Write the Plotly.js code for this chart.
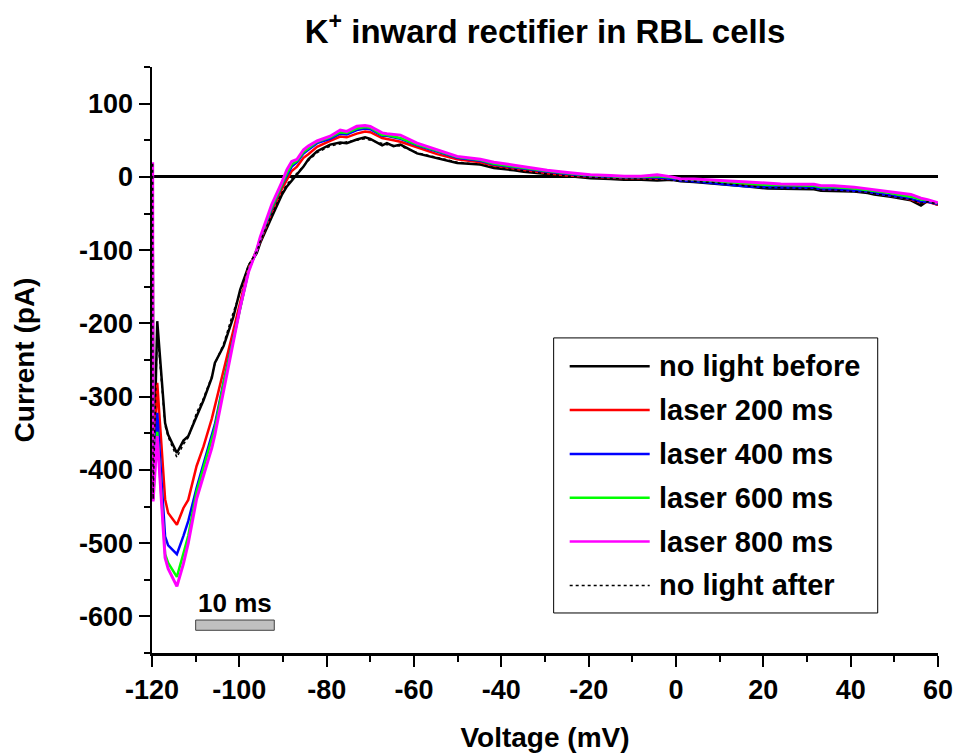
<!DOCTYPE html>
<html>
<head>
<meta charset="utf-8">
<script src="https://cdn.plot.ly/plotly-3.0.1.min.js"></script>
<style>html,body{margin:0;padding:0;background:#fff;}#chart{width:955px;height:754px;}</style>
</head>
<body>
<div id="chart"></div>
<script>
// Voltage (mV) sample points
const voltage = [-119.85, -119.75, -118.8, -117.0, -116.3, -114.3, -112.8, -111.7, -109.8, -108.2,
  -106.3, -105.6, -103.6, -101.4, -99.8, -97.9, -96.0, -95.2, -92.6, -90.3,
  -89.1, -88.0, -86.8, -85.3, -84.2, -82.2, -79.2, -76.9, -75.4, -73.1,
  -71.2, -70.0, -67.3, -66.2, -64.7, -63.1, -59.3, -54.7, -50.1, -44.8,
  -41.7, -37.1, -34.9, -29.5, -24.9, -19.6, -15, -11.9, -8, -4.3,
  -1, 1.1, 4.1, 8.7, 13.3, 16.4, 21, 24, 28.6, 31.6,
  33.2, 36.2, 40.8, 43.9, 45.4, 49.2, 50.8, 53.8, 56.1, 57.6, 60];

// Current (pA) per condition
const noLightBefore = [18, -440, -197, -336, -352, -377, -360, -354, -327, -305,
  -274, -254, -231, -192, -154, -122, -104, -90, -55, -25,
  -13, -5, 3, 14, 24, 35, 44, 47, 46, 51,
  54, 52, 43, 46, 42, 44, 32, 26, 19, 17,
  12, 9, 7, 4, 1, -2, -3, -4, -4, -5,
  -4, -6, -7, -9, -12, -13, -16, -16, -16, -17,
  -19, -19, -20, -22, -24, -27, -29, -32, -39, -33, -38];
const laser200 = [18, -440, -281, -440, -459, -475, -452, -441, -395, -368,
  -330, -313, -262, -212, -170, -125, -100, -88, -48, -17,
  -4, 8, 14, 26, 31, 41, 49, 55, 54, 59,
  62, 61, 53, 52, 50, 48, 40, 31, 24, 20,
  15, 11, 9, 5, 2, 0, -1, -2, -2, -2,
  -3, -4, -5, -7, -10, -11, -13, -13, -14, -14,
  -17, -17, -19, -20, -22, -25, -27, -31, -35, -34, -38];
const laser400 = [18, -440, -322, -491, -503, -515, -490, -470, -425, -392,
  -355, -338, -280, -220, -175, -128, -100, -86, -44, -12,
  2, 14, 20, 32, 37, 46, 52, 59, 58, 64,
  66, 65, 56, 56, 54, 52, 43, 34, 26, 22,
  17, 13, 11, 7, 4, 1, 0, -1, -1, -1,
  -3, -5, -6, -9, -12, -13, -14, -14, -15, -15,
  -17, -17, -19, -20, -22, -25, -27, -30, -34, -34, -37];
const laser600 = [18, -440, -348, -515, -527, -546, -514, -490, -430, -398,
  -360, -343, -282, -222, -176, -128, -99, -84, -42, -10,
  5, 17, 22, 34, 39, 48, 54, 61, 60, 66,
  68, 67, 57, 57, 55, 53, 44, 35, 27, 23,
  18, 14, 12, 8, 5, 2, 1, 0, 0, 1,
  -1, -3, -4, -6, -8, -9, -11, -11, -12, -12,
  -14, -14, -16, -18, -19, -22, -24, -27, -31, -32, -36];
const laser800 = [20, -443, -354, -520, -535, -559, -528, -500, -440, -408,
  -370, -352, -292, -222, -178, -130, -99, -82, -38, -8,
  10, 21, 24, 37, 42, 49, 55.5, 64, 62, 69,
  70, 69, 60, 59, 58, 57, 46, 37, 28, 24,
  20, 16, 14, 9, 6, 3, 2, 1, 1, 3,
  0, -3, -3, -4, -6, -7, -9, -9.6, -10, -10,
  -12, -12, -14, -16.5, -17, -20, -22, -24, -29, -31, -35.5];
const noLightAfter = [18, -440, -210, -340, -355, -383, -365, -356, -322, -302,
  -272, -255, -228, -185, -158, -120, -102, -88, -52, -22,
  -10, -3, 5, 15, 22, 33, 42, 45, 48, 50,
  52, 50, 46, 44, 43, 42, 33, 27, 20, 17,
  13, 10, 8, 4, 1, -1, -2, -3, -3, -4,
  -4, -5, -6, -8, -11, -12, -15, -15, -16, -16,
  -18, -18, -20, -21, -23, -26, -28, -31, -36, -34, -37];

const seriesNames = ['no light before', 'laser 200 ms', 'laser 400 ms', 'laser 600 ms', 'laser 800 ms', 'no light after'];
const seriesValues = [noLightBefore, laser200, laser400, laser600, laser800, noLightAfter];
const seriesColors = ['#000000', '#ff0000', '#0000ff', '#00ff00', '#ff00ff', '#000000'];
const seriesWidths = [2.5, 2.5, 2.5, 2.5, 3, 1.5];
const seriesDash = ['solid', 'solid', 'solid', 'solid', 'solid', 'dot'];

// tick labels (plain hyphen minus as in the reference)
const xTickVals = [-120, -100, -80, -60, -40, -20, 0, 20, 40, 60];
const xTickText = ['-120', '-100', '-80', '-60', '-40', '-20', '0', '20', '40', '60'];
const yTickVals = [-600, -500, -400, -300, -200, -100, 0, 100];
const yTickText = ['-600', '-500', '-400', '-300', '-200', '-100', '0', '100'];

// scale bar: 10 ms
const scaleBarX = [-110, -92];
const scaleBarY = [-619, -605];
const scaleBarLabel = '10 ms';

const FONT = 'Liberation Sans, Arial, sans-serif';

const traces = seriesNames.map((name, i) => ({
  type: 'scatter', mode: 'lines', name: name,
  x: voltage, y: seriesValues[i],
  line: {color: seriesColors[i], width: seriesWidths[i], dash: seriesDash[i]},
  showlegend: false
}));

// custom legend (box, sample lines, labels) in paper coords
const legX0 = 0.511, legX1 = 0.9233, legY0 = 0.0683, legY1 = 0.5377;
const lineX0 = 0.5314, lineX1 = 0.6332, textX = 0.6425;
const rowTop = 0.4893, rowStep = 0.0748;
const shapes = [
  {type: 'rect', xref: 'paper', yref: 'paper', x0: legX0, x1: legX1, y0: legY0, y1: legY1,
   line: {color: '#000', width: 1}, fillcolor: '#fff', layer: 'above'},
  {type: 'rect', xref: 'x', yref: 'y', x0: scaleBarX[0], x1: scaleBarX[1], y0: scaleBarY[0], y1: scaleBarY[1],
   line: {color: '#404040', width: 1}, fillcolor: '#c0c0c0', layer: 'above'}
];
const annotations = [
  {xref: 'x', yref: 'y', x: (scaleBarX[0] + scaleBarX[1]) / 2, y: scaleBarY[1], yanchor: 'bottom',
   text: '<b>' + scaleBarLabel + '</b>', showarrow: false, font: {family: FONT, size: 26, color: '#000'}}
];
seriesNames.forEach((name, i) => {
  const yy = rowTop - i * rowStep;
  shapes.push({type: 'line', xref: 'paper', yref: 'paper', x0: lineX0, x1: lineX1, y0: yy, y1: yy,
    line: {color: seriesColors[i], width: i === 5 ? 1.5 : 2.5, dash: seriesDash[i]}, layer: 'above'});
  annotations.push({xref: 'paper', yref: 'paper', x: textX, y: yy, xanchor: 'left', yanchor: 'middle',
    text: '<b>' + name + '</b>', showarrow: false, font: {family: FONT, size: 29, color: '#000'}});
});

const tickFont = {family: FONT, size: 27, color: '#000', weight: 'bold'};
const layout = {
  width: 955, height: 754,
  margin: {l: 152, r: 17, t: 67, b: 101},
  paper_bgcolor: '#fff', plot_bgcolor: '#fff',
  font: {family: FONT, color: '#000'},
  title: {text: 'K<sup>+</sup> inward rectifier in RBL cells', x: 0.5, xref: 'paper', y: 0.958, yref: 'container', yanchor: 'middle',
          font: {family: FONT, size: 33, color: '#000', weight: 'bold'}},
  showlegend: false,
  xaxis: {range: [-120, 60], tickmode: 'array', tickvals: xTickVals, ticktext: xTickText,
          ticks: 'outside', ticklen: 11, tickwidth: 2, tickcolor: '#000',
          minor: {tick0: 0, dtick: 10, ticks: 'outside', ticklen: 6, tickwidth: 2, tickcolor: '#000'},
          showline: true, linecolor: '#000', linewidth: 2.5, showgrid: false, zeroline: false,
          tickfont: tickFont,
          title: {text: 'Voltage (mV)', font: {family: FONT, size: 28, color: '#000', weight: 'bold'}, standoff: 24}},
  yaxis: {range: [-650, 150], tickmode: 'array', tickvals: yTickVals, ticktext: yTickText,
          ticks: 'outside', ticklen: 11, tickwidth: 2, tickcolor: '#000',
          minor: {tick0: 0, dtick: 50, ticks: 'outside', ticklen: 6, tickwidth: 2, tickcolor: '#000'},
          showline: true, linecolor: '#000', linewidth: 2.5, showgrid: false,
          zeroline: true, zerolinecolor: '#000', zerolinewidth: 3,
          tickfont: tickFont,
          title: {text: 'Current (pA)', font: {family: FONT, size: 28, color: '#000', weight: 'bold'}, standoff: 37}},
  xaxis2: {overlaying: 'x', side: 'top', anchor: 'y', range: [-120, 60], tick0: 0, dtick: 20,
           ticks: 'inside', ticklen: 11, tickwidth: 2, tickcolor: '#000',
           minor: {dtick: 10, ticks: 'inside', ticklen: 6, tickwidth: 2, tickcolor: '#000'},
           showline: true, linecolor: '#000', linewidth: 2.5, showgrid: false, zeroline: false, showticklabels: false},
  yaxis2: {overlaying: 'y', side: 'right', anchor: 'x', range: [-650, 150], tick0: 0, dtick: 100,
           ticks: 'inside', ticklen: 11, tickwidth: 2, tickcolor: '#000',
           minor: {dtick: 50, ticks: 'inside', ticklen: 6, tickwidth: 2, tickcolor: '#000'},
           showline: true, linecolor: '#000', linewidth: 2.5, showgrid: false, zeroline: false, showticklabels: false},
  shapes: shapes,
  annotations: annotations
};

Plotly.newPlot('chart', traces, layout, {displayModeBar: false, staticPlot: true});
</script>
</body>
</html>
